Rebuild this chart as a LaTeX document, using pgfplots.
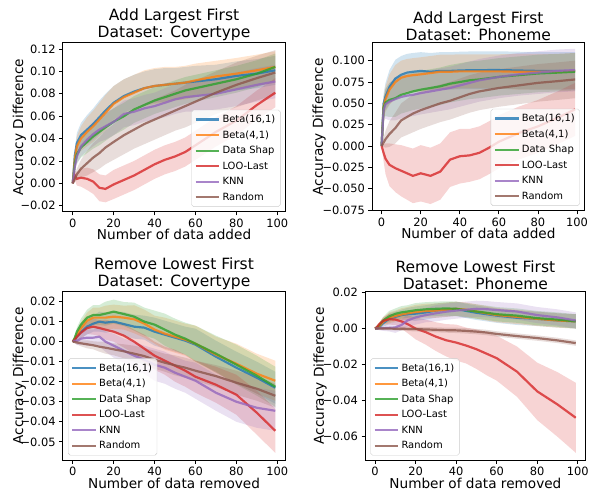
\documentclass[border=0pt]{standalone}
\usepackage{fontspec}
\setmainfont{DejaVu Sans}
\usepackage{pgfplots}
\pgfplotsset{compat=1.18}
\usepackage{pgfplotstable}
\usepgfplotslibrary{fillbetween}

\definecolor{cb}{HTML}{1F77B4}
\definecolor{co}{HTML}{FF7F0E}
\definecolor{cg}{HTML}{2CA02C}
\definecolor{cr}{HTML}{D62728}
\definecolor{ck}{HTML}{9467BD}
\definecolor{cn}{HTML}{8C564B}

% columns: mean and half width of band for Beta(16,1) b, Beta(4,1) o, Data Shap g, LOO-Last r, KNN k, Random n
\pgfplotstableread{
x b bs o os g gs r rs k ks n ns
0 0 0 0 0 0 0 0 0 0 0 0 0
1 0.025 0.006 0.022 0.006 0.018 0.005 0.007 0.004 0.015 0.005 0.004 0.003
2 0.036 0.009 0.033 0.009 0.026 0.008 0.004 0.006 0.024 0.007 0.008 0.005
4 0.043 0.011 0.040 0.011 0.032 0.009 0.005 0.008 0.033 0.009 0.013 0.008
7 0.048 0.013 0.046 0.013 0.037 0.010 0.004 0.010 0.039 0.010 0.018 0.011
10 0.053 0.014 0.051 0.014 0.042 0.011 0.0015 0.011 0.044 0.011 0.023 0.013
13 0.059 0.015 0.057 0.015 0.046 0.012 -0.004 0.012 0.048 0.011 0.027 0.014
16 0.065 0.015 0.063 0.016 0.050 0.012 -0.005 0.012 0.051 0.012 0.032 0.015
20 0.072 0.015 0.071 0.016 0.055 0.012 -0.001 0.013 0.055 0.012 0.037 0.016
25 0.078 0.015 0.077 0.016 0.060 0.012 0.003 0.013 0.062 0.012 0.043 0.017
30 0.082 0.015 0.081 0.016 0.066 0.012 0.007 0.013 0.064 0.012 0.048 0.017
35 0.085 0.015 0.085 0.016 0.070 0.012 0.012 0.013 0.067 0.012 0.053 0.018
40 0.087 0.015 0.087 0.016 0.074 0.012 0.017 0.013 0.069 0.012 0.057 0.018
45 0.088 0.015 0.088 0.016 0.077 0.012 0.021 0.013 0.072 0.013 0.061 0.018
50 0.089 0.014 0.089 0.015 0.080 0.012 0.024 0.013 0.075 0.013 0.065 0.018
55 0.090 0.014 0.090 0.015 0.083 0.012 0.028 0.013 0.077 0.013 0.069 0.019
60 0.091 0.014 0.092 0.015 0.085 0.012 0.034 0.013 0.078 0.014 0.073 0.019
70 0.093 0.013 0.0955 0.014 0.089 0.012 0.046 0.013 0.080 0.014 0.081 0.019
80 0.096 0.013 0.098 0.014 0.093 0.012 0.056 0.013 0.084 0.015 0.088 0.020
90 0.098 0.013 0.101 0.014 0.098 0.012 0.070 0.013 0.088 0.015 0.094 0.020
99 0.101 0.013 0.104 0.014 0.104 0.012 0.081 0.013 0.091 0.015 0.099 0.020
}\tA

\pgfplotstableread{
x b bs o os g gs r rs k ks n ns
0 0 0 0 0 0 0 0 0 0 0 0 0
1 0.050 0.012 0.046 0.012 0.045 0.012 -0.008 0.010 0.042 0.012 0.004 0.005
2 0.058 0.016 0.055 0.015 0.051 0.016 -0.015 0.018 0.049 0.017 0.008 0.010
4 0.069 0.020 0.066 0.018 0.054 0.020 -0.022 0.025 0.052 0.022 0.014 0.015
7 0.079 0.022 0.075 0.020 0.056 0.022 -0.026 0.028 0.055 0.025 0.021 0.018
10 0.0835 0.022 0.080 0.020 0.060 0.022 -0.029 0.030 0.0575 0.025 0.030 0.020
13 0.086 0.022 0.082 0.020 0.062 0.022 -0.032 0.031 0.059 0.025 0.034 0.021
16 0.087 0.022 0.083 0.020 0.064 0.022 -0.035 0.032 0.060 0.025 0.038 0.022
20 0.088 0.022 0.084 0.020 0.066 0.022 -0.032 0.033 0.062 0.025 0.042 0.022
25 0.087 0.022 0.0855 0.020 0.068 0.022 -0.035 0.033 0.064 0.025 0.046 0.022
30 0.088 0.022 0.087 0.020 0.070 0.022 -0.030 0.033 0.066 0.025 0.050 0.022
35 0.088 0.022 0.087 0.020 0.073 0.022 -0.016 0.032 0.068 0.025 0.053 0.022
40 0.0885 0.022 0.0875 0.020 0.075 0.022 -0.012 0.032 0.071 0.025 0.057 0.022
45 0.0888 0.022 0.0875 0.020 0.077 0.022 -0.011 0.031 0.074 0.025 0.061 0.022
50 0.0888 0.022 0.0875 0.020 0.078 0.022 -0.008 0.031 0.077 0.025 0.064 0.022
55 0.089 0.022 0.0875 0.020 0.0795 0.022 -0.002 0.031 0.079 0.025 0.066 0.022
60 0.089 0.022 0.0875 0.020 0.081 0.022 0.005 0.031 0.081 0.025 0.068 0.022
70 0.0885 0.022 0.087 0.021 0.083 0.022 0.015 0.031 0.084 0.025 0.071 0.022
80 0.088 0.022 0.087 0.021 0.085 0.022 0.023 0.031 0.086 0.025 0.074 0.022
90 0.088 0.022 0.087 0.021 0.086 0.022 0.033 0.031 0.088 0.025 0.076 0.022
99 0.088 0.022 0.088 0.021 0.087 0.022 0.043 0.031 0.089 0.025 0.078 0.022
}\tB

\pgfplotstableread{
x b bs o os g gs r rs k ks n ns
0 0 0 0 0 0 0 0 0 0 0 0 0
1 0.001 0.001 0.0015 0.001 0.002 0.001 0.001 0.001 0.0005 0.001 -0.0002 0.0005
2 0.0025 0.002 0.0033 0.002 0.005 0.002 0.0025 0.002 0.0003 0.002 -0.0004 0.001
4 0.0048 0.003 0.0068 0.003 0.0085 0.003 0.0045 0.003 0.0015 0.003 -0.0008 0.0015
7 0.0075 0.004 0.0105 0.004 0.012 0.004 0.0068 0.003 0.002 0.004 -0.0013 0.002
10 0.009 0.004 0.012 0.005 0.0133 0.005 0.0075 0.004 0.002 0.004 -0.0018 0.002
13 0.010 0.005 0.012 0.005 0.0133 0.005 0.0068 0.004 0.0025 0.005 -0.0025 0.0025
16 0.0095 0.005 0.012 0.006 0.014 0.006 0.006 0.005 0.000 0.005 -0.003 0.003
20 0.010 0.005 0.0125 0.006 0.015 0.006 0.005 0.005 -0.002 0.006 -0.0038 0.003
25 0.0088 0.006 0.012 0.006 0.0138 0.006 0.003 0.006 -0.0045 0.006 -0.0048 0.0035
30 0.0075 0.006 0.0112 0.007 0.0125 0.007 0.000 0.006 -0.007 0.007 -0.006 0.004
35 0.007 0.006 0.009 0.007 0.010 0.007 -0.0035 0.007 -0.009 0.007 -0.0072 0.004
40 0.005 0.007 0.006 0.007 0.0085 0.007 -0.007 0.007 -0.0115 0.008 -0.009 0.0045
45 0.0035 0.007 0.004 0.008 0.006 0.008 -0.0095 0.007 -0.013 0.008 -0.0105 0.0045
50 0.002 0.007 0.0025 0.008 0.0035 0.008 -0.012 0.008 -0.0155 0.008 -0.0118 0.005
55 0.0005 0.007 0.001 0.008 0.0015 0.008 -0.0145 0.008 -0.0175 0.008 -0.013 0.005
60 -0.0015 0.008 -0.001 0.009 -0.001 0.009 -0.0175 0.008 -0.0195 0.009 -0.0145 0.005
70 -0.0075 0.008 -0.0065 0.009 -0.006 0.009 -0.0215 0.009 -0.0255 0.009 -0.0172 0.0055
80 -0.013 0.008 -0.011 0.010 -0.0115 0.010 -0.0265 0.010 -0.030 0.010 -0.0205 0.006
90 -0.018 0.008 -0.016 0.010 -0.017 0.010 -0.0355 0.011 -0.033 0.010 -0.0235 0.006
99 -0.023 0.008 -0.0195 0.010 -0.0225 0.010 -0.0445 0.011 -0.0345 0.010 -0.027 0.006
}\tC

\pgfplotstableread{
x b bs o os g gs r rs k ks n ns
0 0 0 0 0 0 0 0 0 0 0 0 0
1 0.000 0.0005 0.0003 0.0005 0.0008 0.0005 0.0009 0.0005 0.000 0.0005 0.000 0.0003
2 0.0008 0.001 0.0012 0.001 0.0018 0.001 0.0024 0.001 0.0001 0.001 0.000 0.0005
4 0.003 0.002 0.0038 0.002 0.0045 0.002 0.0043 0.002 0.0002 0.0015 0.000 0.0008
7 0.0055 0.003 0.006 0.003 0.0068 0.003 0.0052 0.003 0.0004 0.002 0.000 0.001
10 0.0065 0.003 0.007 0.003 0.0082 0.003 0.0050 0.003 0.0006 0.003 -0.0001 0.001
13 0.0075 0.003 0.0078 0.0035 0.009 0.0035 0.0040 0.004 0.002 0.003 -0.0001 0.0012
16 0.008 0.0035 0.0085 0.0035 0.0095 0.0035 0.0025 0.005 0.0045 0.0035 -0.0002 0.0012
20 0.0083 0.004 0.0092 0.004 0.0102 0.004 0.0000 0.006 0.0062 0.004 -0.0003 0.0013
25 0.009 0.004 0.0098 0.004 0.0107 0.004 -0.002 0.007 0.0075 0.004 -0.0005 0.0013
30 0.010 0.004 0.010 0.004 0.011 0.004 -0.0045 0.008 0.0085 0.0045 -0.0007 0.0014
35 0.0105 0.004 0.0105 0.004 0.0112 0.004 -0.0065 0.009 0.0094 0.0045 -0.0009 0.0014
40 0.011 0.004 0.011 0.004 0.011 0.004 -0.0078 0.010 0.010 0.0045 -0.001 0.0015
45 0.0098 0.004 0.0105 0.004 0.0102 0.004 -0.0095 0.010 0.0105 0.0045 -0.0013 0.0015
50 0.0088 0.004 0.0095 0.004 0.0095 0.004 -0.0115 0.011 0.011 0.0045 -0.0017 0.0015
55 0.008 0.004 0.0085 0.004 0.0088 0.004 -0.014 0.012 0.0108 0.0045 -0.0022 0.0015
60 0.0072 0.004 0.0075 0.004 0.008 0.004 -0.0165 0.0125 0.0103 0.0045 -0.003 0.0015
70 0.006 0.004 0.0065 0.004 0.0072 0.004 -0.024 0.014 0.0095 0.0045 -0.0042 0.0015
80 0.0054 0.004 0.0054 0.004 0.0058 0.004 -0.035 0.016 0.0075 0.0045 -0.0053 0.0015
90 0.0045 0.004 0.0045 0.004 0.005 0.004 -0.0423 0.018 0.0062 0.0045 -0.0066 0.0015
99 0.004 0.004 0.004 0.004 0.004 0.004 -0.0497 0.0195 0.0045 0.0045 -0.0081 0.0015
}\tD

% shaded band: table, mean column, half-width column, colour
\newcommand{\band}[4]{%
  \addplot[draw=none, forget plot, name path=U#2] table[x=x, y expr=\thisrow{#2}+\thisrow{#3}] {#1};
  \addplot[draw=none, forget plot, name path=L#2] table[x=x, y expr=\thisrow{#2}-\thisrow{#3}] {#1};
  \addplot[fill=#4, fill opacity=0.2, draw=none, forget plot] fill between[of=U#2 and L#2];
}
\newcommand{\allseries}[1]{%
  \band{#1}{b}{bs}{cb}\band{#1}{o}{os}{co}\band{#1}{g}{gs}{cg}
  \band{#1}{r}{rs}{cr}\band{#1}{k}{ks}{ck}\band{#1}{n}{ns}{cn}
  \addplot[cb, line width=2.2pt, opacity=0.8] table[x=x, y=b] {#1}; \addlegendentry{Beta(16,1)}
  \addplot[co, line width=2.2pt, opacity=0.8] table[x=x, y=o] {#1}; \addlegendentry{Beta(4,1)}
  \addplot[cg, line width=2.2pt, opacity=0.8] table[x=x, y=g] {#1}; \addlegendentry{Data Shap}
  \addplot[cr, line width=2.2pt, opacity=0.8] table[x=x, y=r] {#1}; \addlegendentry{LOO-Last}
  \addplot[ck, line width=2.2pt, opacity=0.8] table[x=x, y=k] {#1}; \addlegendentry{KNN}
  \addplot[cn, line width=2.2pt, opacity=0.8] table[x=x, y=n] {#1}; \addlegendentry{Random}
}

\pgfplotsset{
  panel/.style={
    scale only axis, anchor=south west,
    xmin=-4.95, xmax=103.95, xtick={0,20,40,60,80,100},
    tick align=outside, xtick pos=left, ytick pos=left,
    major tick length=3.5pt,
    every tick/.style={black, line width=0.8pt},
    axis line style={line width=0.8pt},
    scaled y ticks=false,
    /pgf/number format/assume math mode=true,
    tick label style={font=\fontsize{11.5}{13}\selectfont},
    every axis x label/.style={at={(rel axis cs:0.5,0)}, anchor=north, yshift=-14pt,
      font=\fontsize{13.7}{16}\selectfont},
    title style={font=\fontsize{15.6}{17}\selectfont, align=center, yshift=-7.5pt},
    ylabel={Accuracy Difference},
    legend cell align=left,
    legend style={font=\fontsize{10}{12}\selectfont, draw=black!20, rounded corners=2pt,
      fill=white, fill opacity=0.8, text opacity=1, inner sep=3pt, row sep=2.6pt},
    legend image code/.code={\draw[##1, line width=2.2pt, draw opacity=0.8] (0pt,0pt) -- (24pt,0pt);},
  },
  ylab/.style={every axis y label/.style={at={(rel axis cs:#1,0.5)}, anchor=south, rotate=90,
      font=\fontsize{13.7}{16}\selectfont}},
}

\begin{document}
\begin{tikzpicture}[x=1pt, y=1pt]
\path (0,0) rectangle (592,496);

\begin{axis}[panel, ylab=-0.149, at={(63pt,283pt)}, width=224pt, height=170pt,
  ymin=-0.0255, ymax=0.1256,
  ytick={-0.02,0,0.02,0.04,0.06,0.08,0.1,0.12},
  yticklabels={−0.02,0.00,0.02,0.04,0.06,0.08,0.10,0.12},
  title={Add Largest First\\Dataset: Covertype},
  xlabel={Number of data added},
  legend style={at={(0.978,0.03)}, anchor=south east}]
\allseries{\tA}
\end{axis}

\begin{axis}[panel, ylab=-0.201, at={(374pt,284pt)}, width=214pt, height=169pt,
  ymin=-0.076, ymax=0.121,
  ytick={-0.075,-0.05,-0.025,0,0.025,0.05,0.075,0.1},
  yticklabels={−0.075,−0.050,−0.025,0.000,0.025,0.050,0.075,0.100},
  title={Add Largest First\\Dataset: Phoneme},
  xlabel={Number of data added},
  legend style={at={(0.977,0.03)}, anchor=south east}]
\allseries{\tB}
\end{axis}

\begin{axis}[panel, ylab=-0.149, at={(63pt,33pt)}, width=224pt, height=170pt,
  ymin=-0.0593, ymax=0.0251,
  ytick={-0.05,-0.04,-0.03,-0.02,-0.01,0,0.01,0.02},
  yticklabels={−0.05,−0.04,−0.03,−0.02,−0.01,0.00,0.01,0.02},
  title={Remove Lowest First\\Dataset: Covertype},
  xlabel={Number of data removed},
  legend style={at={(0.024,0.03)}, anchor=south west}]
\allseries{\tC}
\end{axis}

\begin{axis}[panel, ylab=-0.158, at={(367pt,33pt)}, width=222pt, height=170pt,
  ymin=-0.0735, ymax=0.0207,
  ytick={-0.06,-0.04,-0.02,0,0.02},
  yticklabels={−0.06,−0.04,−0.02,0.00,0.02},
  title={Remove Lowest First\\Dataset: Phoneme},
  xlabel={Number of data removed},
  legend style={at={(0.024,0.03)}, anchor=south west}]
\allseries{\tD}
\end{axis}
\end{tikzpicture}
\end{document}
